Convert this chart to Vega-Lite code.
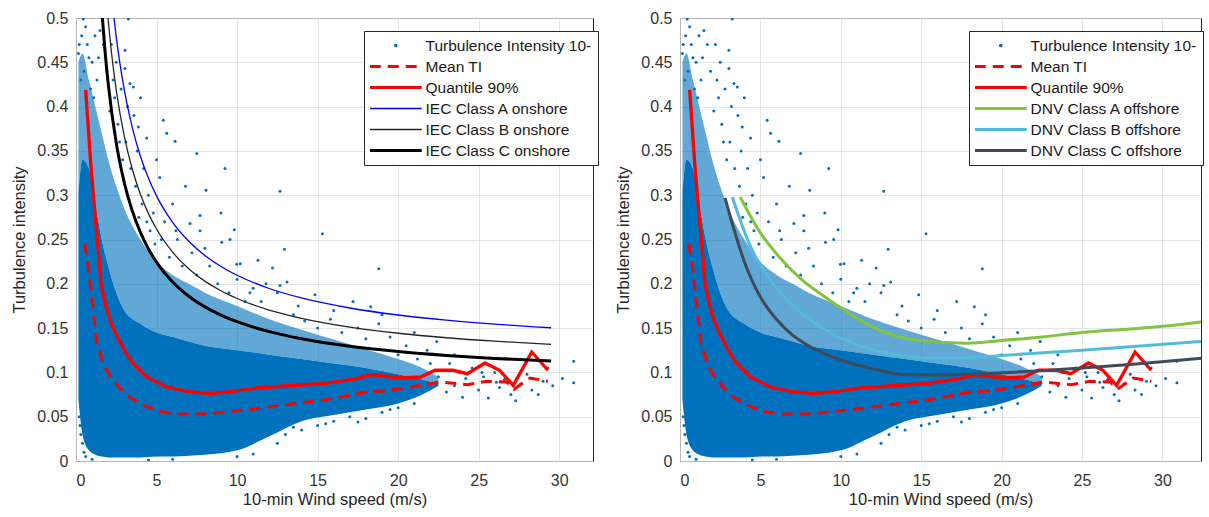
{
  "$schema": "https://vega.github.io/schema/vega-lite/v6.json",
  "background": "white",
  "padding": {"left": 11, "top": 9, "right": 0, "bottom": 0},
  "bounds": "flush",
  "spacing": 87,
  "config": {
    "font": "Liberation Sans",
    "view": {"stroke": "#262626", "strokeWidth": 1},
    "axis": {
      "grid": true, "gridColor": "#dedede", "gridWidth": 0.8, "domain": false, "ticks": false,
      "labelFont": "Liberation Sans", "labelFontSize": 16, "labelColor": "#333333",
      "titleFont": "Liberation Sans", "titleFontSize": 16.5, "titleFontWeight": "normal", "titleColor": "#262626"
    },
    "axisX": {"labelPadding": 11, "titlePadding": 3},
    "axisY": {"labelPadding": 8, "titlePadding": 9},
    "legend": {
      "orient": "none", "labelFont": "Liberation Sans", "labelFontSize": 15.5, "labelColor": "#1a1a1a",
      "labelLimit": 250, "labelOffset": 22, "symbolOffset": 18, "strokeColor": "#262626", "fillColor": "white", "padding": 6,
      "symbolSize": 2700, "clipHeight": 17, "rowPadding": 4, "titleLimit": 0
    }
  },
  "datasets": {
    "blob": [
      {"V": 0.15, "lo": 0.07, "hi1": 0.30, "hi2": 0.45},
      {"V": 0.4, "lo": 0.03, "hi1": 0.34, "hi2": 0.46},
      {"V": 0.8, "lo": 0.012, "hi1": 0.33, "hi2": 0.43},
      {"V": 1.2, "lo": 0.007, "hi1": 0.29, "hi2": 0.4},
      {"V": 1.6, "lo": 0.005, "hi1": 0.25, "hi2": 0.37},
      {"V": 2.0, "lo": 0.004, "hi1": 0.22, "hi2": 0.34},
      {"V": 2.5, "lo": 0.004, "hi1": 0.19, "hi2": 0.31},
      {"V": 3.0, "lo": 0.004, "hi1": 0.17, "hi2": 0.285},
      {"V": 4.0, "lo": 0.004, "hi1": 0.155, "hi2": 0.25},
      {"V": 5.0, "lo": 0.005, "hi1": 0.145, "hi2": 0.225},
      {"V": 6.0, "lo": 0.005, "hi1": 0.14, "hi2": 0.21},
      {"V": 7.0, "lo": 0.006, "hi1": 0.135, "hi2": 0.2},
      {"V": 8.0, "lo": 0.007, "hi1": 0.13, "hi2": 0.19},
      {"V": 10, "lo": 0.012, "hi1": 0.125, "hi2": 0.175},
      {"V": 12, "lo": 0.028, "hi1": 0.12, "hi2": 0.16},
      {"V": 14, "lo": 0.045, "hi1": 0.115, "hi2": 0.148},
      {"V": 16, "lo": 0.052, "hi1": 0.11, "hi2": 0.137},
      {"V": 18, "lo": 0.058, "hi1": 0.105, "hi2": 0.126},
      {"V": 20, "lo": 0.065, "hi1": 0.098, "hi2": 0.115},
      {"V": 21.5, "lo": 0.075, "hi1": 0.092, "hi2": 0.105},
      {"V": 22.5, "lo": 0.085, "hi1": 0.087, "hi2": 0.095}
    ],
    "pts": [
      {"V": 0.45, "TI": 0.499}, {"V": 1.18, "TI": 0.48}, {"V": 1.49, "TI": 0.486}, {"V": 3.04, "TI": 0.4635}, {"V": 3.04, "TI": 0.443},
      {"V": 3.35, "TI": 0.426}, {"V": 3.56, "TI": 0.422}, {"V": 3.87, "TI": 0.377}, {"V": 4.39, "TI": 0.3646}, {"V": 5.42, "TI": 0.3845},
      {"V": 5.63, "TI": 0.37}, {"V": 6.15, "TI": 0.361}, {"V": 7.5, "TI": 0.347}, {"V": 3.25, "TI": 0.499}, {"V": 2.5, "TI": 0.45},
      {"V": 2.2, "TI": 0.47}, {"V": 1.9, "TI": 0.44}, {"V": 2.8, "TI": 0.42}, {"V": 2.6, "TI": 0.38}, {"V": 3.2, "TI": 0.4},
      {"V": 3.1, "TI": 0.36}, {"V": 3.6, "TI": 0.39}, {"V": 4.0, "TI": 0.41}, {"V": 3.8, "TI": 0.35}, {"V": 4.2, "TI": 0.33},
      {"V": 2.9, "TI": 0.34}, {"V": 2.4, "TI": 0.41}, {"V": 2.1, "TI": 0.395}, {"V": 1.7, "TI": 0.47}, {"V": 1.4, "TI": 0.455},
      {"V": 2.3, "TI": 0.43}, {"V": 2.7, "TI": 0.36}, {"V": 3.4, "TI": 0.33}, {"V": 3.7, "TI": 0.31}, {"V": 4.1, "TI": 0.29},
      {"V": 4.5, "TI": 0.3}, {"V": 4.8, "TI": 0.28}, {"V": 5.2, "TI": 0.32}, {"V": 5.5, "TI": 0.27}, {"V": 6.0, "TI": 0.29},
      {"V": 6.3, "TI": 0.25}, {"V": 6.8, "TI": 0.31}, {"V": 7.2, "TI": 0.235}, {"V": 7.7, "TI": 0.26}, {"V": 8.3, "TI": 0.22},
      {"V": 8.8, "TI": 0.2}, {"V": 5.0, "TI": 0.34}, {"V": 4.6, "TI": 0.26}, {"V": 5.8, "TI": 0.23}, {"V": 6.6, "TI": 0.22},
      {"V": 7.5, "TI": 0.21}, {"V": 9.5, "TI": 0.19}, {"V": 10.5, "TI": 0.18}, {"V": 11.0, "TI": 0.195}, {"V": 10.0, "TI": 0.205},
      {"V": 8.0, "TI": 0.24}, {"V": 6.2, "TI": 0.26}, {"V": 5.3, "TI": 0.25}, {"V": 4.9, "TI": 0.245}, {"V": 4.4, "TI": 0.27},
      {"V": 3.9, "TI": 0.275}, {"V": 7.08, "TI": 0.268}, {"V": 7.7, "TI": 0.277}, {"V": 8.07, "TI": 0.3055}, {"V": 9.25, "TI": 0.33},
      {"V": 9.0, "TI": 0.28}, {"V": 9.83, "TI": 0.261}, {"V": 12.67, "TI": 0.3044}, {"V": 15.3, "TI": 0.2566}, {"V": 12.94, "TI": 0.239},
      {"V": 18.8, "TI": 0.217}, {"V": 11.3, "TI": 0.2265}, {"V": 12.2, "TI": 0.2178}, {"V": 9.56, "TI": 0.25}, {"V": 9.05, "TI": 0.247},
      {"V": 13.1, "TI": 0.202}, {"V": 12.67, "TI": 0.198}, {"V": 14.84, "TI": 0.1877}, {"V": 17.2, "TI": 0.18}, {"V": 9.98, "TI": 0.222},
      {"V": 10.2, "TI": 0.2227}, {"V": 13.5, "TI": 0.165}, {"V": 14.2, "TI": 0.158}, {"V": 15.0, "TI": 0.15}, {"V": 15.8, "TI": 0.16},
      {"V": 16.5, "TI": 0.145}, {"V": 17.5, "TI": 0.15}, {"V": 18.0, "TI": 0.138}, {"V": 18.8, "TI": 0.155}, {"V": 19.5, "TI": 0.14},
      {"V": 20.5, "TI": 0.13}, {"V": 21.0, "TI": 0.145}, {"V": 21.8, "TI": 0.125}, {"V": 22.4, "TI": 0.135}, {"V": 23.5, "TI": 0.12},
      {"V": 12.5, "TI": 0.19}, {"V": 11.8, "TI": 0.2}, {"V": 13.8, "TI": 0.175}, {"V": 16.0, "TI": 0.17}, {"V": 19.0, "TI": 0.165},
      {"V": 18.3, "TI": 0.174}, {"V": 20.0, "TI": 0.12}, {"V": 21.2, "TI": 0.115}, {"V": 22.0, "TI": 0.11}, {"V": 11.5, "TI": 0.18},
      {"V": 10.8, "TI": 0.19}, {"V": 22.5, "TI": 0.095}, {"V": 23.0, "TI": 0.078}, {"V": 23.2, "TI": 0.11}, {"V": 23.5, "TI": 0.085},
      {"V": 23.8, "TI": 0.1}, {"V": 24.0, "TI": 0.072}, {"V": 24.2, "TI": 0.093}, {"V": 24.6, "TI": 0.105}, {"V": 25.0, "TI": 0.08},
      {"V": 25.3, "TI": 0.095}, {"V": 25.6, "TI": 0.071}, {"V": 26.0, "TI": 0.1}, {"V": 26.3, "TI": 0.083}, {"V": 26.6, "TI": 0.092},
      {"V": 27.0, "TI": 0.075}, {"V": 27.3, "TI": 0.068}, {"V": 27.6, "TI": 0.087}, {"V": 28.0, "TI": 0.098}, {"V": 28.3, "TI": 0.08},
      {"V": 28.7, "TI": 0.075}, {"V": 29.0, "TI": 0.09}, {"V": 29.3, "TI": 0.105}, {"V": 29.6, "TI": 0.085}, {"V": 30.2, "TI": 0.093},
      {"V": 30.9, "TI": 0.1125}, {"V": 30.9, "TI": 0.0884}, {"V": 25.2, "TI": 0.1}, {"V": 26.1, "TI": 0.089},
      {"V": 0.2, "TI": 0.05}, {"V": 0.3, "TI": 0.03}, {"V": 0.5, "TI": 0.01}, {"V": 0.4, "TI": 0.02}, {"V": 0.25, "TI": 0.04},
      {"V": 0.6, "TI": 0.005}, {"V": 1.0, "TI": 0.002}, {"V": 4.5, "TI": 0.001}, {"V": 6.0, "TI": 0.002},
      {"V": 12.5, "TI": 0.02}, {"V": 13, "TI": 0.03}, {"V": 14, "TI": 0.035}, {"V": 15, "TI": 0.04}, {"V": 16, "TI": 0.045},
      {"V": 17, "TI": 0.05}, {"V": 18, "TI": 0.048}, {"V": 19, "TI": 0.055}, {"V": 20, "TI": 0.06}, {"V": 21, "TI": 0.065},
      {"V": 13.5, "TI": 0.038}, {"V": 15.5, "TI": 0.042}, {"V": 17.5, "TI": 0.044}, {"V": 19.5, "TI": 0.058}, {"V": 11, "TI": 0.008},
      {"V": 10, "TI": 0.005}, {"V": 0.2, "TI": 0.47}, {"V": 0.5, "TI": 0.44}, {"V": 0.7, "TI": 0.47}, {"V": 0.9, "TI": 0.42},
      {"V": 1.0, "TI": 0.45}, {"V": 0.3, "TI": 0.43}, {"V": 0.35, "TI": 0.48}, {"V": 0.6, "TI": 0.49}, {"V": 0.8, "TI": 0.455},
      {"V": 0.15, "TI": 0.46}, {"V": 1.1, "TI": 0.41}, {"V": 1.3, "TI": 0.43}
    ],
    "curves": [
      {"series": "Mean TI", "V": 0.55, "TI": 0.245}, {"series": "Mean TI", "V": 0.75, "TI": 0.222}, {"series": "Mean TI", "V": 0.95, "TI": 0.19},
      {"series": "Mean TI", "V": 1.1, "TI": 0.165}, {"series": "Mean TI", "V": 1.29, "TI": 0.134}, {"series": "Mean TI", "V": 1.7, "TI": 0.11},
      {"series": "Mean TI", "V": 2.2, "TI": 0.093}, {"series": "Mean TI", "V": 3.15, "TI": 0.0741}, {"series": "Mean TI", "V": 4.17, "TI": 0.063},
      {"series": "Mean TI", "V": 5.22, "TI": 0.056}, {"series": "Mean TI", "V": 6.46, "TI": 0.0527}, {"series": "Mean TI", "V": 8.1, "TI": 0.0534},
      {"series": "Mean TI", "V": 10.2, "TI": 0.0572}, {"series": "Mean TI", "V": 11.2, "TI": 0.059}, {"series": "Mean TI", "V": 13.5, "TI": 0.0647},
      {"series": "Mean TI", "V": 15.3, "TI": 0.0685}, {"series": "Mean TI", "V": 18.1, "TI": 0.0779}, {"series": "Mean TI", "V": 19.5, "TI": 0.0798},
      {"series": "Mean TI", "V": 21.4, "TI": 0.0854}, {"series": "Mean TI", "V": 22.6, "TI": 0.0892}, {"series": "Mean TI", "V": 24.3, "TI": 0.0861},
      {"series": "Mean TI", "V": 25.5, "TI": 0.09}, {"series": "Mean TI", "V": 26.75, "TI": 0.0892}, {"series": "Mean TI", "V": 27.2, "TI": 0.081},
      {"series": "Mean TI", "V": 28.2, "TI": 0.0937}, {"series": "Mean TI", "V": 29.3, "TI": 0.09},
      {"series": "Quantile 90%", "V": 0.6, "TI": 0.419}, {"series": "Quantile 90%", "V": 0.91, "TI": 0.337}, {"series": "Quantile 90%", "V": 1.12, "TI": 0.292},
      {"series": "Quantile 90%", "V": 1.39, "TI": 0.236}, {"series": "Quantile 90%", "V": 1.55, "TI": 0.2}, {"series": "Quantile 90%", "V": 1.8, "TI": 0.179},
      {"series": "Quantile 90%", "V": 2.1, "TI": 0.16}, {"series": "Quantile 90%", "V": 2.42, "TI": 0.1456}, {"series": "Quantile 90%", "V": 3.0, "TI": 0.125},
      {"series": "Quantile 90%", "V": 3.46, "TI": 0.1117}, {"series": "Quantile 90%", "V": 4.39, "TI": 0.0948}, {"series": "Quantile 90%", "V": 5.63, "TI": 0.0835},
      {"series": "Quantile 90%", "V": 6.88, "TI": 0.0787}, {"series": "Quantile 90%", "V": 8.32, "TI": 0.076}, {"series": "Quantile 90%", "V": 9.75, "TI": 0.0787},
      {"series": "Quantile 90%", "V": 11.2, "TI": 0.0824}, {"series": "Quantile 90%", "V": 13.9, "TI": 0.0858}, {"series": "Quantile 90%", "V": 15.3, "TI": 0.0872},
      {"series": "Quantile 90%", "V": 17.4, "TI": 0.0929}, {"series": "Quantile 90%", "V": 18.37, "TI": 0.0974}, {"series": "Quantile 90%", "V": 20.1, "TI": 0.0937},
      {"series": "Quantile 90%", "V": 21.4, "TI": 0.0948}, {"series": "Quantile 90%", "V": 22.3, "TI": 0.1024}, {"series": "Quantile 90%", "V": 23.4, "TI": 0.1024},
      {"series": "Quantile 90%", "V": 24.3, "TI": 0.0985}, {"series": "Quantile 90%", "V": 25.4, "TI": 0.1106}, {"series": "Quantile 90%", "V": 26.3, "TI": 0.1024},
      {"series": "Quantile 90%", "V": 27.15, "TI": 0.0854}, {"series": "Quantile 90%", "V": 28.3, "TI": 0.123}, {"series": "Quantile 90%", "V": 29.3, "TI": 0.1024},
      {"series": "IEC Class A onshore", "V": 2.36, "TI": 0.5}, {"series": "IEC Class A onshore", "V": 2.5, "TI": 0.4784}, {"series": "IEC Class A onshore", "V": 3, "TI": 0.4187},
      {"series": "IEC Class A onshore", "V": 3.5, "TI": 0.376}, {"series": "IEC Class A onshore", "V": 4, "TI": 0.344}, {"series": "IEC Class A onshore", "V": 4.5, "TI": 0.3191},
      {"series": "IEC Class A onshore", "V": 5, "TI": 0.2992}, {"series": "IEC Class A onshore", "V": 6, "TI": 0.2693}, {"series": "IEC Class A onshore", "V": 7, "TI": 0.248},
      {"series": "IEC Class A onshore", "V": 8, "TI": 0.232}, {"series": "IEC Class A onshore", "V": 9, "TI": 0.2196}, {"series": "IEC Class A onshore", "V": 10, "TI": 0.2096},
      {"series": "IEC Class A onshore", "V": 12, "TI": 0.1947}, {"series": "IEC Class A onshore", "V": 14, "TI": 0.184}, {"series": "IEC Class A onshore", "V": 17, "TI": 0.1727},
      {"series": "IEC Class A onshore", "V": 20, "TI": 0.1648}, {"series": "IEC Class A onshore", "V": 23, "TI": 0.159}, {"series": "IEC Class A onshore", "V": 26, "TI": 0.1545},
      {"series": "IEC Class A onshore", "V": 29.5, "TI": 0.1504},
      {"series": "IEC Class B onshore", "V": 1.985, "TI": 0.5}, {"series": "IEC Class B onshore", "V": 2.2, "TI": 0.4614}, {"series": "IEC Class B onshore", "V": 2.5, "TI": 0.4186},
      {"series": "IEC Class B onshore", "V": 3, "TI": 0.3663}, {"series": "IEC Class B onshore", "V": 3.5, "TI": 0.329}, {"series": "IEC Class B onshore", "V": 4, "TI": 0.301},
      {"series": "IEC Class B onshore", "V": 4.5, "TI": 0.2792}, {"series": "IEC Class B onshore", "V": 5, "TI": 0.2618}, {"series": "IEC Class B onshore", "V": 6, "TI": 0.2357},
      {"series": "IEC Class B onshore", "V": 7, "TI": 0.217}, {"series": "IEC Class B onshore", "V": 8, "TI": 0.203}, {"series": "IEC Class B onshore", "V": 9, "TI": 0.1921},
      {"series": "IEC Class B onshore", "V": 10, "TI": 0.1834}, {"series": "IEC Class B onshore", "V": 12, "TI": 0.1703}, {"series": "IEC Class B onshore", "V": 14, "TI": 0.161},
      {"series": "IEC Class B onshore", "V": 17, "TI": 0.1511}, {"series": "IEC Class B onshore", "V": 20, "TI": 0.1442}, {"series": "IEC Class B onshore", "V": 23, "TI": 0.1391},
      {"series": "IEC Class B onshore", "V": 26, "TI": 0.1352}, {"series": "IEC Class B onshore", "V": 29.5, "TI": 0.1316},
      {"series": "IEC Class C onshore", "V": 1.639, "TI": 0.5}, {"series": "IEC Class C onshore", "V": 1.8, "TI": 0.4633}, {"series": "IEC Class C onshore", "V": 2, "TI": 0.426},
      {"series": "IEC Class C onshore", "V": 2.5, "TI": 0.3588}, {"series": "IEC Class C onshore", "V": 3, "TI": 0.314}, {"series": "IEC Class C onshore", "V": 3.5, "TI": 0.282},
      {"series": "IEC Class C onshore", "V": 4, "TI": 0.258}, {"series": "IEC Class C onshore", "V": 4.5, "TI": 0.2393}, {"series": "IEC Class C onshore", "V": 5, "TI": 0.2244},
      {"series": "IEC Class C onshore", "V": 6, "TI": 0.202}, {"series": "IEC Class C onshore", "V": 7, "TI": 0.186}, {"series": "IEC Class C onshore", "V": 8, "TI": 0.174},
      {"series": "IEC Class C onshore", "V": 9, "TI": 0.1647}, {"series": "IEC Class C onshore", "V": 10, "TI": 0.1572}, {"series": "IEC Class C onshore", "V": 12, "TI": 0.146},
      {"series": "IEC Class C onshore", "V": 14, "TI": 0.138}, {"series": "IEC Class C onshore", "V": 17, "TI": 0.1295}, {"series": "IEC Class C onshore", "V": 20, "TI": 0.1236},
      {"series": "IEC Class C onshore", "V": 23, "TI": 0.1192}, {"series": "IEC Class C onshore", "V": 26, "TI": 0.1158}, {"series": "IEC Class C onshore", "V": 29.5, "TI": 0.1128},
      {"series": "DNV Class A offshore", "V": 3.74, "TI": 0.298}, {"series": "DNV Class A offshore", "V": 4.98, "TI": 0.258}, {"series": "DNV Class A offshore", "V": 6.23, "TI": 0.229},
      {"series": "DNV Class A offshore", "V": 7.48, "TI": 0.206}, {"series": "DNV Class A offshore", "V": 9.35, "TI": 0.181}, {"series": "DNV Class A offshore", "V": 11.2, "TI": 0.159},
      {"series": "DNV Class A offshore", "V": 12.5, "TI": 0.147}, {"series": "DNV Class A offshore", "V": 13.7, "TI": 0.14}, {"series": "DNV Class A offshore", "V": 15.5, "TI": 0.135},
      {"series": "DNV Class A offshore", "V": 17.9, "TI": 0.133}, {"series": "DNV Class A offshore", "V": 20, "TI": 0.136}, {"series": "DNV Class A offshore", "V": 22.5, "TI": 0.14},
      {"series": "DNV Class A offshore", "V": 25, "TI": 0.145}, {"series": "DNV Class A offshore", "V": 28, "TI": 0.149}, {"series": "DNV Class A offshore", "V": 30, "TI": 0.152},
      {"series": "DNV Class A offshore", "V": 32.4, "TI": 0.157},
      {"series": "DNV Class B offshore", "V": 3.25, "TI": 0.298}, {"series": "DNV Class B offshore", "V": 4.36, "TI": 0.243}, {"series": "DNV Class B offshore", "V": 5.61, "TI": 0.204},
      {"series": "DNV Class B offshore", "V": 7.48, "TI": 0.168}, {"series": "DNV Class B offshore", "V": 9.35, "TI": 0.145}, {"series": "DNV Class B offshore", "V": 11.2, "TI": 0.13},
      {"series": "DNV Class B offshore", "V": 13.7, "TI": 0.119}, {"series": "DNV Class B offshore", "V": 15.5, "TI": 0.116}, {"series": "DNV Class B offshore", "V": 17, "TI": 0.116},
      {"series": "DNV Class B offshore", "V": 20, "TI": 0.119}, {"series": "DNV Class B offshore", "V": 25, "TI": 0.125}, {"series": "DNV Class B offshore", "V": 28, "TI": 0.129},
      {"series": "DNV Class B offshore", "V": 32.4, "TI": 0.135},
      {"series": "DNV Class C offshore", "V": 2.8, "TI": 0.297}, {"series": "DNV Class C offshore", "V": 4, "TI": 0.225}, {"series": "DNV Class C offshore", "V": 5, "TI": 0.185},
      {"series": "DNV Class C offshore", "V": 6, "TI": 0.16}, {"series": "DNV Class C offshore", "V": 7, "TI": 0.142}, {"series": "DNV Class C offshore", "V": 8, "TI": 0.13},
      {"series": "DNV Class C offshore", "V": 10, "TI": 0.114}, {"series": "DNV Class C offshore", "V": 12, "TI": 0.104}, {"series": "DNV Class C offshore", "V": 13.7, "TI": 0.098},
      {"series": "DNV Class C offshore", "V": 16, "TI": 0.097}, {"series": "DNV Class C offshore", "V": 20, "TI": 0.0995}, {"series": "DNV Class C offshore", "V": 25, "TI": 0.105},
      {"series": "DNV Class C offshore", "V": 28, "TI": 0.109}, {"series": "DNV Class C offshore", "V": 32.4, "TI": 0.116}
    ]
  },
  "resolve": {"scale": {"shape": "independent"}, "legend": {"shape": "independent"}},
  "hconcat": [
    {
      "width": 517,
      "height": 443,
      "encoding": {
        "x": {"field": "V", "type": "quantitative", "scale": {"domain": [0, 32.1], "nice": false, "zero": false}, "title": "10-min Wind speed (m/s)", "axis": {"values": [0, 5, 10, 15, 20, 25, 30]}},
        "y": {"field": "TI", "type": "quantitative", "scale": {"domain": [0, 0.5], "nice": false}, "title": "Turbulence intensity", "axis": {"values": [0, 0.05, 0.1, 0.15, 0.2, 0.25, 0.3, 0.35, 0.4, 0.45, 0.5], "format": "~g"}}
      },
      "layer": [
        {
          "data": {"name": "blob"},
          "mark": {"type": "area", "color": "#0072BD", "interpolate": "monotone", "clip": true},
          "encoding": {"y": {"field": "hi1", "type": "quantitative", "title": "Turbulence intensity"}, "y2": {"field": "lo"}}
        },
        {
          "data": {"name": "blob"},
          "mark": {"type": "area", "color": "#0072BD", "opacity": 0.62, "interpolate": "monotone", "clip": true},
          "encoding": {"y": {"field": "hi2", "type": "quantitative", "title": "Turbulence intensity"}, "y2": {"field": "hi1"}}
        },
        {
          "data": {"name": "pts"},
          "mark": {"type": "circle", "size": 9, "opacity": 1, "clip": true, "color": "#0072BD"}
        },
        {
          "data": {"name": "curves"},
          "transform": [{"filter": "datum.series === 'Mean TI'"}],
          "mark": {"type": "line", "color": "#FF0000", "strokeWidth": 3, "strokeDash": [11, 7], "clip": true}
        },
        {
          "data": {"name": "curves"},
          "transform": [{"filter": "datum.series === 'Quantile 90%'"}],
          "mark": {"type": "line", "color": "#FF0000", "strokeWidth": 3.3, "clip": true}
        },
        {
          "data": {"name": "curves"},
          "transform": [{"filter": "datum.series === 'IEC Class A onshore'"}],
          "mark": {"type": "line", "color": "#0000FF", "strokeWidth": 1.3, "interpolate": "monotone", "clip": true}
        },
        {
          "data": {"name": "curves"},
          "transform": [{"filter": "datum.series === 'IEC Class B onshore'"}],
          "mark": {"type": "line", "color": "#262626", "strokeWidth": 1.3, "interpolate": "monotone", "clip": true}
        },
        {
          "data": {"name": "curves"},
          "transform": [{"filter": "datum.series === 'IEC Class C onshore'"}],
          "mark": {"type": "line", "color": "#000000", "strokeWidth": 3, "interpolate": "monotone", "clip": true}
        },
        {
          "data": {"values": [
            {"entry": "Turbulence Intensity 10-min"}, {"entry": "Mean TI"}, {"entry": "Quantile 90%"},
            {"entry": "IEC Class A onshore"}, {"entry": "IEC Class B onshore"}, {"entry": "IEC Class C onshore"}
          ]},
          "mark": {
            "type": "point",
            "opacity": {"expr": "isValid(datum.value) ? 1 : 0"},
            "fill": {"expr": "datum.value === 'Turbulence Intensity 10-min' ? '#0072BD' : 'transparent'"},
            "stroke": {"expr": "(datum.value === 'Mean TI' || datum.value === 'Quantile 90%') ? '#FF0000' : datum.value === 'IEC Class A onshore' ? '#0000FF' : datum.value === 'IEC Class B onshore' ? '#262626' : datum.value === 'IEC Class C onshore' ? '#000000' : '#0072BD'"}
          },
          "encoding": {
            "x": {"value": 0},
            "y": {"value": 0},
            "shape": {
              "field": "entry", "type": "nominal", "title": null,
              "scale": {
                "domain": ["Turbulence Intensity 10-min", "Mean TI", "Quantile 90%", "IEC Class A onshore", "IEC Class B onshore", "IEC Class C onshore"],
                "range": ["M-0.07,0A0.07,0.07,0,1,0,0.07,0A0.07,0.07,0,1,0,-0.07,0Z", "stroke", "stroke", "stroke", "stroke", "stroke"]
              },
              "legend": {
                "legendX": 288, "legendY": 13, "title": null,
                "labelExpr": "datum.label === 'Turbulence Intensity 10-min' ? 'Turbulence Intensity 10-' : datum.label",
                "symbolStrokeWidth": {"expr": "datum.value === 'Turbulence Intensity 10-min' ? 0 : (datum.value === 'IEC Class A onshore' || datum.value === 'IEC Class B onshore') ? 1.3 : 3.2"},
                "symbolDash": {"expr": "datum.value === 'Mean TI' ? [11, 7] : [1, 0]"}
              }
            }
          }
        }
      ]
    },
    {
      "width": 521,
      "height": 443,
      "encoding": {
        "x": {"field": "V", "type": "quantitative", "scale": {"domain": [0, 32.4], "nice": false, "zero": false}, "title": "10-min Wind speed (m/s)", "axis": {"values": [0, 5, 10, 15, 20, 25, 30]}},
        "y": {"field": "TI", "type": "quantitative", "scale": {"domain": [0, 0.5], "nice": false}, "title": "Turbulence intensity", "axis": {"values": [0, 0.05, 0.1, 0.15, 0.2, 0.25, 0.3, 0.35, 0.4, 0.45, 0.5], "format": "~g"}}
      },
      "layer": [
        {
          "data": {"name": "blob"},
          "mark": {"type": "area", "color": "#0072BD", "interpolate": "monotone", "clip": true},
          "encoding": {"y": {"field": "hi1", "type": "quantitative", "title": "Turbulence intensity"}, "y2": {"field": "lo"}}
        },
        {
          "data": {"name": "blob"},
          "mark": {"type": "area", "color": "#0072BD", "opacity": 0.62, "interpolate": "monotone", "clip": true},
          "encoding": {"y": {"field": "hi2", "type": "quantitative", "title": "Turbulence intensity"}, "y2": {"field": "hi1"}}
        },
        {
          "data": {"name": "pts"},
          "mark": {"type": "circle", "size": 9, "opacity": 1, "clip": true, "color": "#0072BD"}
        },
        {
          "data": {"name": "curves"},
          "transform": [{"filter": "datum.series === 'Mean TI'"}],
          "mark": {"type": "line", "color": "#FF0000", "strokeWidth": 3, "strokeDash": [11, 7], "clip": true}
        },
        {
          "data": {"name": "curves"},
          "transform": [{"filter": "datum.series === 'Quantile 90%'"}],
          "mark": {"type": "line", "color": "#FF0000", "strokeWidth": 3.3, "clip": true}
        },
        {
          "data": {"name": "curves"},
          "transform": [{"filter": "datum.series === 'DNV Class A offshore'"}],
          "mark": {"type": "line", "color": "#82C341", "strokeWidth": 3, "interpolate": "monotone", "clip": true}
        },
        {
          "data": {"name": "curves"},
          "transform": [{"filter": "datum.series === 'DNV Class B offshore'"}],
          "mark": {"type": "line", "color": "#52BCD8", "strokeWidth": 3, "interpolate": "monotone", "clip": true}
        },
        {
          "data": {"name": "curves"},
          "transform": [{"filter": "datum.series === 'DNV Class C offshore'"}],
          "mark": {"type": "line", "color": "#404A59", "strokeWidth": 3, "interpolate": "monotone", "clip": true}
        },
        {
          "data": {"values": [
            {"entry": "Turbulence Intensity 10-min"}, {"entry": "Mean TI"}, {"entry": "Quantile 90%"},
            {"entry": "DNV Class A offshore"}, {"entry": "DNV Class B offshore"}, {"entry": "DNV Class C offshore"}
          ]},
          "mark": {
            "type": "point",
            "opacity": {"expr": "isValid(datum.value) ? 1 : 0"},
            "fill": {"expr": "datum.value === 'Turbulence Intensity 10-min' ? '#0072BD' : 'transparent'"},
            "stroke": {"expr": "(datum.value === 'Mean TI' || datum.value === 'Quantile 90%') ? '#FF0000' : datum.value === 'DNV Class A offshore' ? '#82C341' : datum.value === 'DNV Class B offshore' ? '#52BCD8' : datum.value === 'DNV Class C offshore' ? '#404A59' : '#0072BD'"}
          },
          "encoding": {
            "x": {"value": 0},
            "y": {"value": 0},
            "shape": {
              "field": "entry", "type": "nominal", "title": null,
              "scale": {
                "domain": ["Turbulence Intensity 10-min", "Mean TI", "Quantile 90%", "DNV Class A offshore", "DNV Class B offshore", "DNV Class C offshore"],
                "range": ["M-0.07,0A0.07,0.07,0,1,0,0.07,0A0.07,0.07,0,1,0,-0.07,0Z", "stroke", "stroke", "stroke", "stroke", "stroke"]
              },
              "legend": {
                "legendX": 289, "legendY": 13, "title": null,
                "labelExpr": "datum.label === 'Turbulence Intensity 10-min' ? 'Turbulence Intensity 10-' : datum.label",
                "symbolStrokeWidth": {"expr": "datum.value === 'Turbulence Intensity 10-min' ? 0 : 3.2"},
                "symbolDash": {"expr": "datum.value === 'Mean TI' ? [11, 7] : [1, 0]"}
              }
            }
          }
        }
      ]
    }
  ]
}
